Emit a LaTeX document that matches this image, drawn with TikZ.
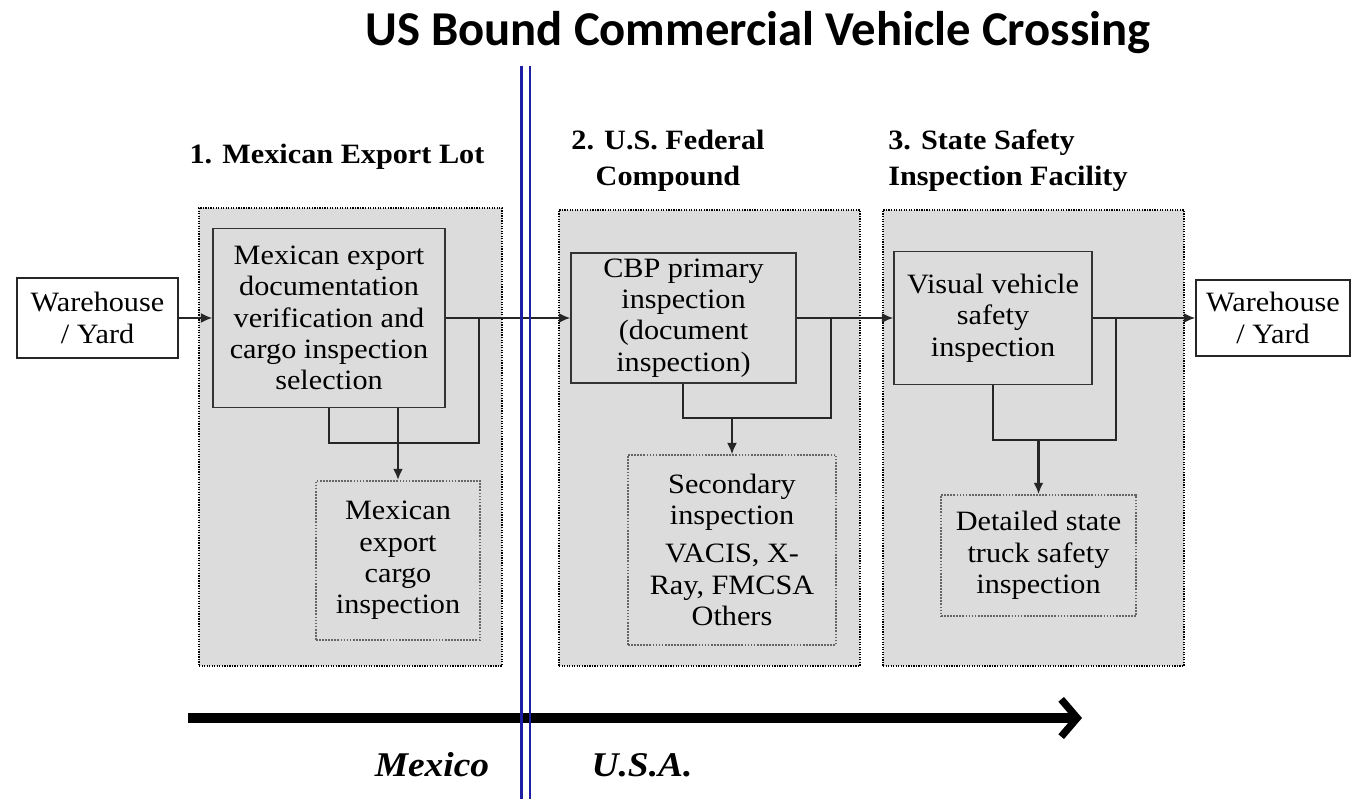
\documentclass[tikz,border=0pt]{standalone}
\usepackage{fontspec}
\setmainfont{Liberation Serif}[FakeStretch=1.08]
\newfontfamily\titlefont{Carlito}
\usetikzlibrary{arrows.meta}
\newlength\pxu
\setlength\pxu{0.75pt}
\definecolor{boxgray}{RGB}{220,220,220}
\definecolor{borderblue}{RGB}{30,30,165}
\tikzset{
  bodytext/.style={font=\fontsize{21}{23.5}\selectfont, align=center, inner sep=0pt},
  headtext/.style={font=\fontsize{21}{27}\selectfont\bfseries, inner sep=0pt},
  zone/.style={draw=black, fill=boxgray, densely dotted, line width=0.9pt},
  stepbox/.style={bodytext, draw=black!80, fill=boxgray, line width=1.2pt},
  subbox/.style={bodytext, draw=black!60, fill=boxgray, densely dotted, line width=1.3pt},
  endbox/.style={bodytext, draw=black!85, fill=white, line width=1.3pt},
  conn/.style={draw=black!85, line width=1.2pt},
  arr/.style={conn, -{Latex[length=8.5pt,width=7.5pt]}},
  border/.style={draw=borderblue, line width=2.2pt},
  country/.style={font=\fontsize{26}{30}\selectfont\bfseries\itshape, inner sep=0pt},
}
\begin{document}
\begin{tikzpicture}[x=0.75pt,y=-0.75pt]
\useasboundingbox (0,0) rectangle (1353,799);

% title
\node[font=\titlefont\fontsize{36.5}{42}\selectfont\bfseries, inner sep=0pt] (title) at (758,33) {US Bound Commercial Vehicle Crossing};

% zones
\node[zone, minimum width=303\pxu, minimum height=458\pxu] (z1) at (350.5,437) {};
\node[zone, minimum width=301\pxu, minimum height=456\pxu] (z2) at (709.5,438) {};
\node[zone, minimum width=301\pxu, minimum height=456\pxu] (z3) at (1033.5,438) {};

% headers
\node[headtext, anchor=base] (h1) at (337,163) {1. Mexican Export Lot};
\node[headtext, align=center] (h2) at (668,161) {2. U.S. Federal\\Compound};
\node[headtext, align=left, anchor=west] (h3) at (888,161) {3. State Safety\\Inspection Facility};

% end boxes
\node[endbox, minimum width=161\pxu, minimum height=80\pxu] (wh1) at (97.5,318) {Warehouse\\/ Yard};
\node[endbox, minimum width=154\pxu, minimum height=76\pxu] (wh2) at (1273,318) {Warehouse\\/ Yard};

% step boxes
\node[stepbox, minimum width=232\pxu, minimum height=179\pxu] (doc) at (329,318) {Mexican export\\documentation\\verification and\\cargo inspection\\selection};
\node[stepbox, minimum width=225\pxu, minimum height=130\pxu] (cbp) at (683.5,318) {CBP primary\\inspection\\(document\\inspection)};
\node[stepbox, minimum width=198\pxu, minimum height=133\pxu] (vis) at (993,318) {Visual vehicle\\safety\\inspection};

% sub boxes
\node[subbox, minimum width=164\pxu, minimum height=159\pxu] (cargo) at (398,560.5) {Mexican\\export\\cargo\\inspection};
\node[subbox, minimum width=208\pxu, minimum height=190\pxu] (sec) at (732,550) {Secondary\\inspection\\[5pt]VACIS, X-\\Ray, FMCSA\\Others};
\node[subbox, minimum width=195\pxu, minimum height=121\pxu] (det) at (1038.5,555.5) {Detailed state\\truck safety\\inspection};

% main flow
\draw[arr] (wh1) -- (doc);
\draw[arr] (doc) -- (cbp);
\draw[arr] (cbp) -- (vis);
\draw[arr] (vis) -- (wh2);

% loops
\coordinate (l1l) at (329,443);
\coordinate (l1r) at (479,443);
\draw[conn] (doc.south -| l1l) -- (l1l) -- (l1r) -- (l1r |- doc.east);
\draw[arr, line width=1.8pt] (doc.south -| cargo.north) -- (cargo.north);

\coordinate (l2l) at (683,418);
\coordinate (l2r) at (831,418);
\draw[conn] (cbp.south -| l2l) -- (l2l) -- (l2r) -- (l2r |- cbp.east);
\draw[arr] (l2l -| sec.north) -- (sec.north);

\coordinate (l3l) at (993,440);
\coordinate (l3r) at (1116,440);
\draw[conn] (vis.south -| l3l) -- (l3l) -- (l3r) -- (l3r |- vis.east);
\draw[arr, line width=1.6pt] (l3l -| det.north) -- (det.north);

% direction arrow
\coordinate (as) at (188,718);
\coordinate (ae) at (1082,718);
\draw[line width=7.5pt, -{Straight Barb[length=12pt,width=28pt,line width=5.5pt]}] (as) -- (ae);

% country labels
\node[country] (mx) at (432,765) {Mexico};
\node[country] (us) at (642,765) {U.S.A.};

% border
\draw[border] (521.5,66) -- (521.5,799);
\draw[border] (530,66) -- (530,799);
\end{tikzpicture}
\end{document}
